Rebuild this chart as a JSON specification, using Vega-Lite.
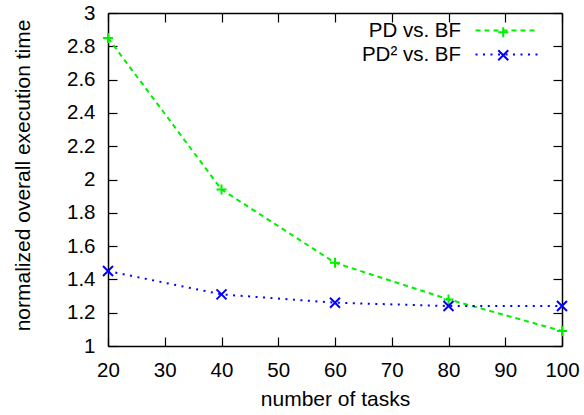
{
  "$schema": "https://vega.github.io/schema/vega-lite/v6.json",
  "width": 454,
  "height": 333,
  "autosize": {"type": "none"},
  "padding": {"left": 108, "top": 13, "right": 22, "bottom": 69},
  "background": "white",
  "config": {
    "font": "Liberation Sans",
    "view": {"stroke": null},
    "axis": {
      "grid": false,
      "domainColor": "black",
      "domainWidth": 1.5,
      "tickColor": "black",
      "tickWidth": 1.2,
      "labelColor": "black",
      "labelFontSize": 20.5,
      "titleFontSize": 21,
      "titleFontWeight": "normal",
      "titleColor": "black"
    }
  },
  "data": {
    "values": [
      {"tasks": 20, "time": 2.85, "series": "PD vs. BF", "marker": "PD vs. BF"},
      {"tasks": 40, "time": 1.94, "series": "PD vs. BF", "marker": "PD vs. BF"},
      {"tasks": 60, "time": 1.50, "series": "PD vs. BF", "marker": "PD vs. BF"},
      {"tasks": 80, "time": 1.28, "series": "PD vs. BF", "marker": "PD vs. BF"},
      {"tasks": 100, "time": 1.09, "series": "PD vs. BF", "marker": "PD vs. BF"},
      {"tasks": 20, "time": 1.45, "series": "PD² vs. BF", "marker": "PD² vs. BF"},
      {"tasks": 40, "time": 1.31, "series": "PD² vs. BF", "marker": "PD² vs. BF"},
      {"tasks": 60, "time": 1.26, "series": "PD² vs. BF", "marker": "PD² vs. BF"},
      {"tasks": 80, "time": 1.24, "series": "PD² vs. BF", "marker": "PD² vs. BF"},
      {"tasks": 100, "time": 1.24, "series": "PD² vs. BF", "marker": "PD² vs. BF"}
    ]
  },
  "layer": [
    {
      "mark": {"type": "line", "strokeWidth": 2},
      "encoding": {
        "x": {
          "field": "tasks", "type": "quantitative",
          "scale": {"domain": [20, 100], "nice": false, "zero": false},
          "axis": {"orient": "bottom", "values": [20, 30, 40, 50, 60, 70, 80, 90, 100], "tickSize": -9, "labelPadding": 23, "title": "number of tasks", "titlePadding": 8, "labelFlush": false}
        },
        "y": {
          "field": "time", "type": "quantitative",
          "scale": {"domain": [1, 3], "nice": false, "zero": false},
          "axis": {"orient": "left", "values": [1, 1.2, 1.4, 1.6, 1.8, 2, 2.2, 2.4, 2.6, 2.8, 3], "format": ".1~f", "tickSize": -9, "labelPadding": 22, "title": "normalized overall execution time", "titlePadding": 33, "titleY": 162}
        },
        "color": {
          "field": "series", "type": "nominal",
          "scale": {"domain": ["PD vs. BF", "PD² vs. BF"], "range": ["#00f000", "#0000ff"]},
          "legend": {"title": null, "orient": "none", "legendX": 387, "legendY": 6, "symbolType": "M-3,0H3", "symbolSize": 427, "symbolStrokeWidth": 2, "labelFontSize": 20.5, "labelColor": "black", "labelAlign": "right", "labelOffset": -57, "padding": 0, "labelLimit": 0, "rowPadding": 2}
        },
        "strokeDash": {
          "field": "series", "type": "nominal",
          "scale": {"domain": ["PD vs. BF", "PD² vs. BF"], "range": [[5, 4], [2, 5.5]]},
          "legend": {"title": null, "orient": "none", "legendX": 387, "legendY": 6, "symbolType": "M-3,0H3", "symbolSize": 427, "symbolStrokeWidth": 2, "labelFontSize": 20.5, "labelColor": "black", "labelAlign": "right", "labelOffset": -57, "padding": 0, "labelLimit": 0, "rowPadding": 2}
        }
      }
    },
    {
      "mark": {"type": "point", "filled": false, "strokeWidth": 2, "size": 100, "opacity": 1},
      "encoding": {
        "x": {
          "field": "tasks", "type": "quantitative",
          "scale": {"domain": [20, 100], "nice": false, "zero": false},
          "axis": {"orient": "top", "values": [20, 30, 40, 50, 60, 70, 80, 90, 100], "tickSize": -9, "labels": false, "title": null}
        },
        "y": {
          "field": "time", "type": "quantitative",
          "scale": {"domain": [1, 3], "nice": false, "zero": false},
          "axis": {"orient": "right", "values": [1, 1.2, 1.4, 1.6, 1.8, 2, 2.2, 2.4, 2.6, 2.8, 3], "tickSize": -9, "labels": false, "title": null}
        },
        "color": {
          "field": "series", "type": "nominal",
          "scale": {"domain": ["PD vs. BF", "PD² vs. BF"], "range": ["#00f000", "#0000ff"]},
          "legend": {"title": null, "orient": "none", "legendX": 387, "legendY": 6, "symbolType": "M-3,0H3", "symbolSize": 427, "symbolStrokeWidth": 2, "labelFontSize": 20.5, "labelColor": "black", "labelAlign": "right", "labelOffset": -57, "padding": 0, "labelLimit": 0, "rowPadding": 2}
        },
        "shape": {
          "field": "marker", "type": "nominal",
          "scale": {"range": ["M-1,0H1M0,-1V1", "M-1,-1L1,1M-1,1L1,-1"]},
          "legend": {"title": null, "orient": "none", "legendX": 385, "legendY": 9, "symbolSize": 100, "symbolStrokeWidth": 2, "symbolFillColor": "transparent", "symbolStrokeColor": {"expr": "datum.value === 'PD vs. BF' ? '#00f000' : '#0000ff'"}, "labelFontSize": 20.5, "labelExpr": "''", "padding": 0, "labelLimit": 0, "rowPadding": 2}
        }
      }
    }
  ],
  "resolve": {"axis": {"x": "independent", "y": "independent"}}
}
